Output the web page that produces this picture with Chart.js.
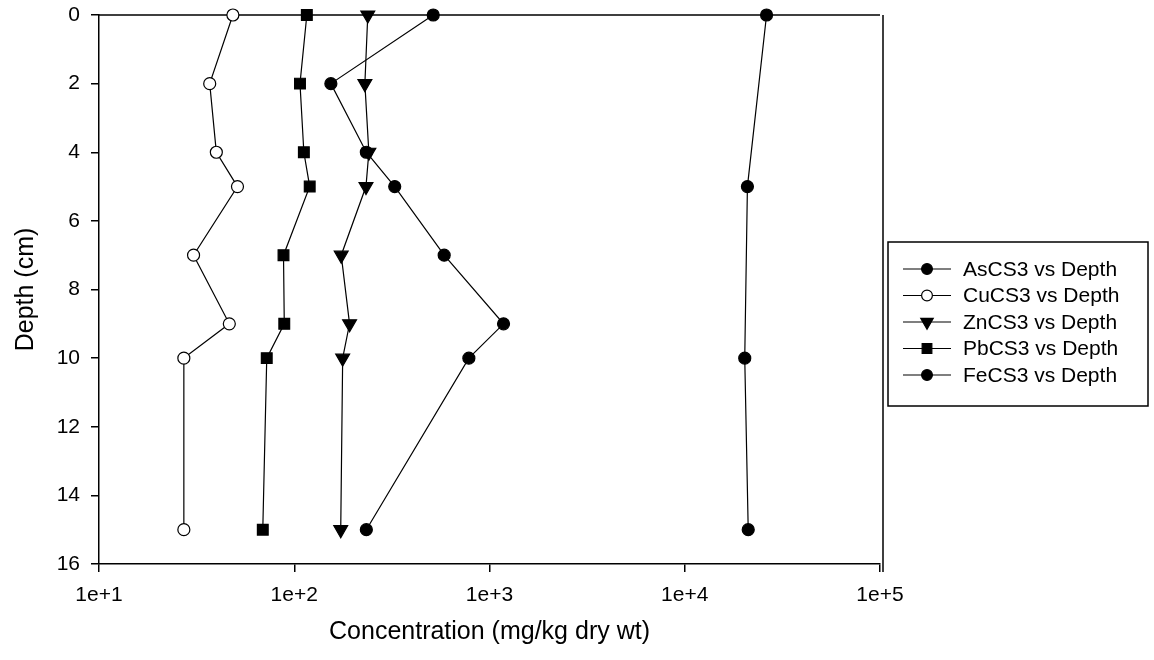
<!DOCTYPE html>
<html>
<head>
<meta charset="utf-8">
<script src="https://cdn.jsdelivr.net/npm/chart.js@4/dist/chart.umd.min.js"></script>
<style>
  html, body { margin: 0; padding: 0; background: #fff; }
  #wrap { width: 1154px; height: 660px; position: relative; }
</style>
</head>
<body>
<div id="wrap"><canvas id="c" width="1154" height="660"></canvas></div>
<script>
// ---- data ----
const depths = [0, 2, 4, 5, 7, 9, 10, 15];
const asValues = [515, 154, 234, 327, 586, 1180, 784, 234];
const cuValues = [48.5, 36.9, 39.9, 51.2, 30.5, 46.5, 27.2, 27.2];
const znValues = [238, 230, 241, 233, 174, 192, 177, 173];
const pbValues = [116, 107, 112, 120, 88.1, 88.9, 72.3, 69.0];
const feDepths = [0, 5, 10, 15];
const feValues = [26240, 20940, 20290, 21140];
const seriesNames = ['AsCS3 vs Depth', 'CuCS3 vs Depth', 'ZnCS3 vs Depth', 'PbCS3 vs Depth', 'FeCS3 vs Depth'];
const xTickValues = [10, 100, 1000, 10000, 100000];
const xTickLabels = ['1e+1', '1e+2', '1e+3', '1e+4', '1e+5'];
const yTickValues = [0, 2, 4, 6, 8, 10, 12, 14, 16];

const FONT = "'Liberation Sans', Arial, sans-serif";

function pts(xs, ys) { return xs.map((v, i) => ({ x: v, y: ys[i] })); }

function ds(label, data, style, radius, fill, rotation) {
  return {
    label, data,
    showLine: true,
    borderColor: '#000', borderWidth: 1.2,
    pointStyle: style, pointRadius: radius, pointHoverRadius: radius,
    pointRotation: rotation || 0,
    pointBackgroundColor: fill, pointBorderColor: '#000', pointBorderWidth: 1.2,
    clip: false
  };
}

const datasets = [
  ds(seriesNames[0], pts(asValues, depths), 'circle', 6, '#000'),
  ds(seriesNames[1], pts(cuValues, depths), 'circle', 6, '#fff'),
  ds(seriesNames[2], pts(znValues, depths), 'triangle', 8, '#000', 180),
  ds(seriesNames[3], pts(pbValues, depths), 'rect', 7.6, '#000'),
  ds(seriesNames[4], pts(feValues, feDepths), 'circle', 6, '#000')
];

const framePlugin = {
  id: 'frame',
  beforeDatasetsDraw(chart) {
    const { ctx, chartArea: a } = chart;
    ctx.save();
    ctx.strokeStyle = '#000';
    ctx.lineWidth = 1.5;
    ctx.beginPath();
    ctx.moveTo(a.left, a.top);
    ctx.lineTo(a.right, a.top);
    ctx.moveTo(a.right + 3, a.top);
    ctx.lineTo(a.right + 3, a.bottom + 8);
    ctx.stroke();
    ctx.restore();
  }
};

const legendPlugin = {
  id: 'customLegend',
  afterDraw(chart) {
    const { ctx, chartArea: a } = chart;
    const left = a.right + 8, top = a.top + 227, w = 260, h = 164;
    ctx.save();
    ctx.strokeStyle = '#000';
    ctx.lineWidth = 1.5;
    ctx.strokeRect(left, top, w, h);
    ctx.font = '21px ' + FONT;
    ctx.textBaseline = 'middle';
    ctx.textAlign = 'left';
    chart.data.datasets.forEach((d, i) => {
      const y = top + 27 + i * 26.5;
      ctx.strokeStyle = '#000';
      ctx.lineWidth = 1.2;
      ctx.beginPath();
      ctx.moveTo(left + 15, y);
      ctx.lineTo(left + 63, y);
      ctx.stroke();
      ctx.fillStyle = d.pointBackgroundColor;
      ctx.strokeStyle = '#000';
      ctx.lineWidth = 1.2;
      Chart.helpers.drawPoint(ctx, {
        pointStyle: d.pointStyle,
        radius: d.pointRadius * 0.9,
        rotation: d.pointRotation,
        borderWidth: 1.2
      }, left + 39, y);
      ctx.fillStyle = '#000';
      ctx.fillText(d.label, left + 75, y + 1);
    });
    ctx.restore();
  }
};

new Chart(document.getElementById('c'), {
  type: 'scatter',
  data: { datasets },
  plugins: [framePlugin, legendPlugin],
  options: {
    responsive: false,
    animation: false,
    events: [],
    layout: { padding: { left: 0, right: 274, top: 15, bottom: 0 } },
    plugins: { legend: { display: false }, tooltip: { enabled: false } },
    scales: {
      x: {
        type: 'logarithmic',
        position: 'bottom',
        min: 10, max: 100000,
        afterBuildTicks: s => { s.ticks = xTickValues.map(v => ({ value: v })); },
        afterFit: s => { s.height = 96; s.paddingLeft = 0; s.paddingRight = 0; },
        ticks: {
          color: '#000',
          font: { family: FONT, size: 21 },
          padding: 11,
          maxRotation: 0,
          autoSkip: false,
          callback: v => { const i = xTickValues.indexOf(v); return i >= 0 ? xTickLabels[i] : ''; }
        },
        grid: { display: true, drawOnChartArea: false, drawTicks: true, tickLength: 8, color: '#000', lineWidth: 1.5 },
        border: { display: true, color: '#000', width: 1.5 },
        title: { display: true, text: 'Concentration (mg/kg dry wt)', color: '#000', font: { family: FONT, size: 25 }, padding: { top: 0, bottom: 13 } }
      },
      y: {
        type: 'linear',
        reverse: true,
        min: 0, max: 16,
        afterBuildTicks: s => { s.ticks = yTickValues.map(v => ({ value: v })); },
        afterFit: s => { s.width = 99; s.paddingTop = 0; s.paddingBottom = 0; },
        ticks: { color: '#000', font: { family: FONT, size: 21 }, padding: 11 },
        grid: { display: true, drawOnChartArea: false, drawTicks: true, tickLength: 8, color: '#000', lineWidth: 1.5 },
        border: { display: true, color: '#000', width: 1.5 },
        title: { display: true, text: 'Depth (cm)', color: '#000', font: { family: FONT, size: 25 }, padding: { top: 11, bottom: 0 } }
      }
    }
  }
});
</script>
</body>
</html>
